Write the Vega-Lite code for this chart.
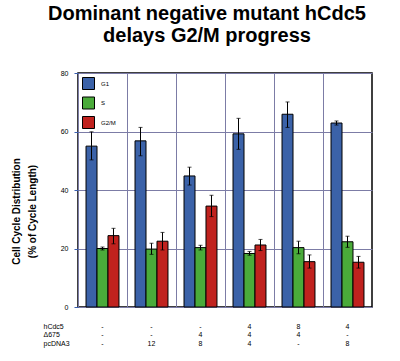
{
  "$schema": "https://vega.github.io/schema/vega-lite/v6.json",
  "width": 294,
  "height": 234,
  "autosize": "none",
  "padding": {"left": 78, "top": 73, "right": 28, "bottom": 54},
  "background": "white",
  "title": {
    "text": ["Dominant negative mutant hCdc5", "delays G2/M progress"],
    "font": "Liberation Sans",
    "fontSize": 20,
    "fontWeight": "bold",
    "lineHeight": 22,
    "anchor": "middle",
    "frame": "group",
    "dx": -18,
    "offset": 23,
    "color": "black"
  },
  "config": {
    "font": "Liberation Sans",
    "view": {"stroke": "black", "strokeWidth": 1.5}
  },
  "data": {
    "values": [
      {"cond": "-|-|-", "phase": "G1", "mean": 55.0, "lo": 50.3, "hi": 59.9},
      {"cond": "-|-|-", "phase": "S", "mean": 20.0, "lo": 19.5, "hi": 20.5},
      {"cond": "-|-|-", "phase": "G2/M", "mean": 24.4, "lo": 21.6, "hi": 26.9},
      {"cond": "-|-|12", "phase": "G1", "mean": 56.8, "lo": 51.7, "hi": 61.4},
      {"cond": "-|-|12", "phase": "S", "mean": 19.8, "lo": 18.0, "hi": 21.8},
      {"cond": "-|-|12", "phase": "G2/M", "mean": 22.5, "lo": 19.5, "hi": 25.5},
      {"cond": "-|4|8", "phase": "G1", "mean": 44.8, "lo": 41.7, "hi": 47.8},
      {"cond": "-|4|8", "phase": "S", "mean": 20.3, "lo": 19.5, "hi": 21.1},
      {"cond": "-|4|8", "phase": "G2/M", "mean": 34.5, "lo": 30.9, "hi": 38.2},
      {"cond": "4|4|4", "phase": "G1", "mean": 59.2, "lo": 53.9, "hi": 64.5},
      {"cond": "4|4|4", "phase": "S", "mean": 18.3, "lo": 17.7, "hi": 19.0},
      {"cond": "4|4|4", "phase": "G2/M", "mean": 21.2, "lo": 19.3, "hi": 23.1},
      {"cond": "8|4|-", "phase": "G1", "mean": 65.9, "lo": 61.4, "hi": 70.1},
      {"cond": "8|4|-", "phase": "S", "mean": 20.3, "lo": 18.2, "hi": 22.5},
      {"cond": "8|4|-", "phase": "G2/M", "mean": 15.5, "lo": 13.3, "hi": 17.8},
      {"cond": "4|-|8", "phase": "G1", "mean": 62.9, "lo": 62.2, "hi": 63.6},
      {"cond": "4|-|8", "phase": "S", "mean": 22.3, "lo": 20.4, "hi": 24.2},
      {"cond": "4|-|8", "phase": "G2/M", "mean": 15.3, "lo": 13.3, "hi": 17.3}
    ]
  },
  "encoding": {
    "x": {
      "field": "cond",
      "type": "nominal",
      "sort": null,
      "scale": {"paddingInner": 0, "paddingOuter": 0},
      "axis": {
        "labelExpr": "split(datum.value, '|')",
        "labelAngle": 0,
        "labelFontSize": 7,
        "labelLineHeight": 8.5,
        "labelPadding": 15,
        "labelBaseline": "top",
        "labelColor": "black",
        "ticks": false,
        "domain": false,
        "grid": true,
        "bandPosition": 0,
        "gridColor": "#7c7ca6",
        "gridWidth": 1,
        "title": ["hCdc5", "Δ675", "pcDNA3"],
        "titleFontSize": 7,
        "titleFontWeight": "normal",
        "titleLineHeight": 8.5,
        "titleAlign": "left",
        "titleAnchor": "start",
        "titleBaseline": "top",
        "titleX": -35,
        "titleY": 15,
        "titleColor": "black"
      }
    },
    "xOffset": {
      "field": "phase",
      "type": "nominal",
      "sort": ["G1", "S", "G2/M"],
      "scale": {"paddingInner": 0, "paddingOuter": 0.73}
    }
  },
  "layer": [
    {
      "mark": {"type": "bar", "stroke": "black", "strokeWidth": 1},
      "encoding": {
        "y": {
          "field": "mean",
          "type": "quantitative",
          "scale": {"domain": [0, 80]},
          "axis": {
            "values": [0, 20, 40, 60, 80],
            "labelFontSize": 7,
            "labelPadding": 6,
            "labelColor": "black",
            "domain": false,
            "tickColor": "#3a5fb0",
            "tickSize": 4,
            "grid": true,
            "gridColor": "#7c7ca6",
            "gridWidth": 1,
            "title": ["Cell Cycle Distribution", "(% of Cycle Length)"],
            "titleFontSize": 10,
            "titleFontWeight": "bold",
            "titleLineHeight": 16,
            "titleAngle": -90,
            "titleX": -57,
            "titleY": 138,
            "titleAlign": "center",
            "titleBaseline": "bottom",
            "titleColor": "black"
          }
        },
        "color": {
          "field": "phase",
          "type": "nominal",
          "sort": ["G1", "S", "G2/M"],
          "scale": {"domain": ["G1", "S", "G2/M"], "range": ["#3b62a8", "#4aab3a", "#c0221e"]},
          "legend": {
            "title": null,
            "orient": "none",
            "legendX": 4,
            "legendY": 4,
            "symbolType": "square",
            "symbolSize": 144,
            "symbolStrokeColor": "black",
            "symbolStrokeWidth": 1,
            "symbolOpacity": 1,
            "labelFontSize": 6,
            "labelColor": "black",
            "labelOffset": 6,
            "rowPadding": 2.5
          }
        }
      }
    },
    {
      "mark": {"type": "rule", "color": "black", "strokeWidth": 1},
      "encoding": {
        "y": {"field": "lo", "type": "quantitative"},
        "y2": {"field": "hi"}
      }
    },
    {
      "mark": {"type": "tick", "color": "black", "thickness": 1, "size": 4},
      "encoding": {"y": {"field": "lo", "type": "quantitative"}}
    },
    {
      "mark": {"type": "tick", "color": "black", "thickness": 1, "size": 4},
      "encoding": {"y": {"field": "hi", "type": "quantitative"}}
    }
  ]
}
